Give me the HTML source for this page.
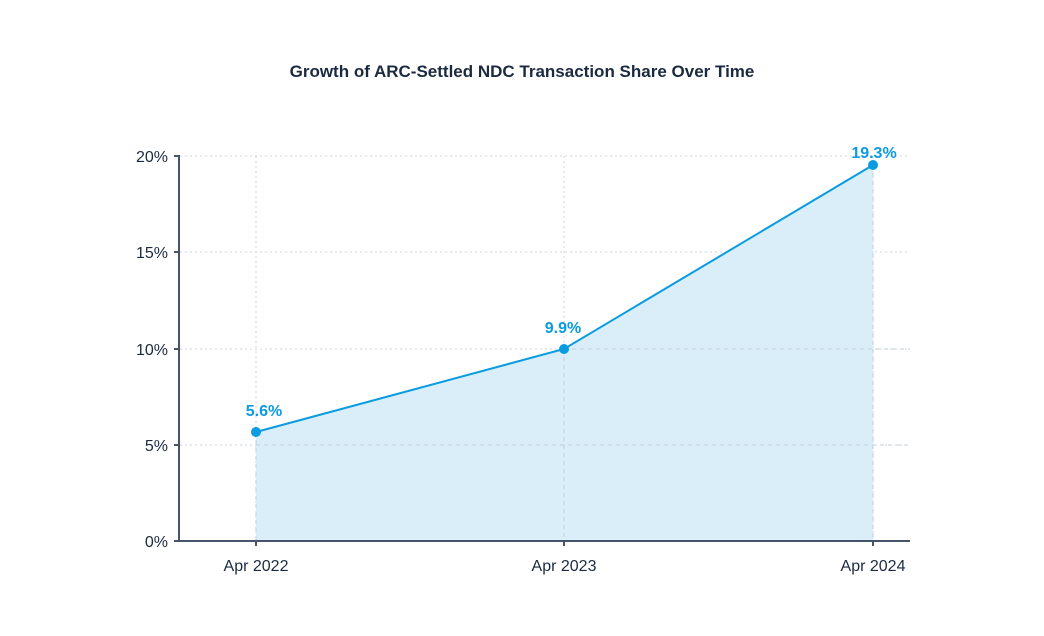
<!DOCTYPE html>
<html><head><style>
html,body{margin:0;padding:0;background:#fff;}
svg{display:block;font-family:"Liberation Sans",sans-serif;}
</style></head><body>
<svg width="1044" height="636" viewBox="0 0 1044 636">
<rect width="1044" height="636" fill="#fff"/>
<text x="522" y="77" text-anchor="middle" font-size="17" font-weight="bold" fill="#1b2a40">Growth of ARC-Settled NDC Transaction Share Over Time</text>
<g stroke="#cdd5da" stroke-dasharray="2,3" stroke-width="1">
<line x1="180" y1="156" x2="910" y2="156"/>
<line x1="180" y1="252" x2="910" y2="252"/>
<line x1="180" y1="349" x2="910" y2="349"/>
<line x1="180" y1="445" x2="910" y2="445"/>
<line x1="256" y1="156" x2="256" y2="541"/>
<line x1="564" y1="156" x2="564" y2="541"/>
<line x1="873" y1="156" x2="873" y2="541"/>
</g>
<polygon points="256,432 564,349 873,165 873,541 256,541" fill="#d9eef9"/>
<g stroke="#c2cfd6" stroke-dasharray="4,4" stroke-width="1">
<line x1="256" y1="432" x2="256" y2="541"/>
<line x1="564" y1="349" x2="564" y2="541"/>
<line x1="873" y1="165" x2="873" y2="541"/>
<line x1="256" y1="445" x2="910" y2="445"/>
<line x1="564" y1="349" x2="910" y2="349"/>
</g>
<polyline points="256,432 564,349 873,165" fill="none" stroke="#0a9be0" stroke-width="2"/>
<g fill="#0a9be0"><circle cx="256" cy="432" r="5"/><circle cx="564" cy="349" r="5"/><circle cx="873" cy="165" r="5"/></g>
<g fill="#0a9be0" font-size="16" font-weight="bold" text-anchor="middle">
<text x="264" y="416">5.6%</text><text x="563" y="333">9.9%</text><text x="874" y="158">19.3%</text></g>
<g stroke="#45546a" stroke-width="2" fill="none">
<line x1="179" y1="155" x2="179" y2="542"/>
<line x1="178" y1="541" x2="910" y2="541"/>
<line x1="174" y1="156" x2="179" y2="156"/>
<line x1="174" y1="252" x2="179" y2="252"/>
<line x1="174" y1="349" x2="179" y2="349"/>
<line x1="174" y1="445" x2="179" y2="445"/>
<line x1="174" y1="541" x2="179" y2="541"/>
<line x1="256" y1="541" x2="256" y2="546"/>
<line x1="564" y1="541" x2="564" y2="546"/>
<line x1="873" y1="541" x2="873" y2="546"/>
</g>
<g fill="#1b2a40" font-size="16" text-anchor="end">
<text x="168" y="162">20%</text><text x="168" y="258">15%</text><text x="168" y="355">10%</text><text x="168" y="451">5%</text><text x="168" y="547">0%</text></g>
<g fill="#1b2a40" font-size="16" text-anchor="middle">
<text x="256" y="571">Apr 2022</text><text x="564" y="571">Apr 2023</text><text x="873" y="571">Apr 2024</text></g>
</svg>
</body></html>
